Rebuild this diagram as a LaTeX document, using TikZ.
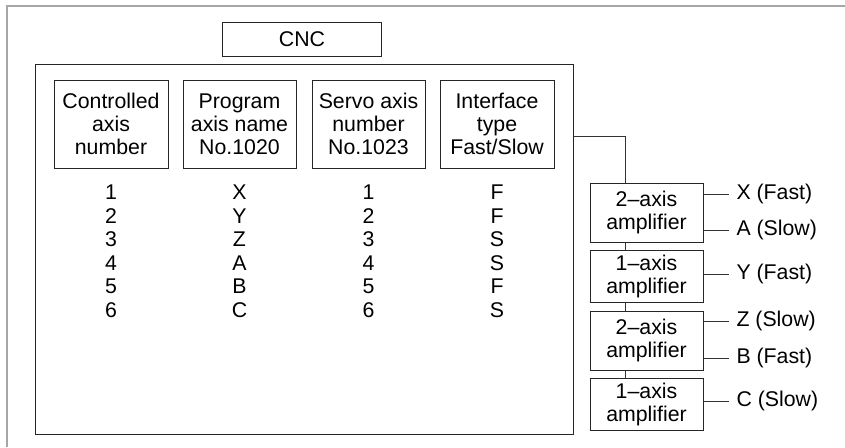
\documentclass[tikz,border=0pt]{standalone}
\usepackage{fontspec}
\setmainfont{Liberation Sans}
\usepackage{tikz}
\usepackage{xcolor}

\begin{document}
\begin{tikzpicture}[x=1pt, y=-1pt, line width=1pt,
    box/.style={draw=black!85, inner sep=0pt, align=center,
      font=\fontsize{21.3}{23}\selectfont},
    cell/.style={inner sep=0pt, font=\fontsize{21.3}{23}\selectfont},
    wire/.style={draw=black!80, line width=0.9pt}]
  \useasboundingbox (0,0) rectangle (845,447);
  % Outer frame
  \draw[gray!70, line width=2pt] (7,447) -- (7,6) -- (845,6);
  % CNC label and body
  \node[box, minimum width=159pt, minimum height=34pt] (cnc) at (302,39.5) {CNC};
  \node[draw=black!85, minimum width=538pt, minimum height=370pt, inner sep=0pt] (body) at (304,249) {};
  % Header boxes
  \node[box, minimum width=114pt, minimum height=88pt] (h1) at (111,124) {Controlled\\axis\\number};
  \node[box, minimum width=113pt, minimum height=88pt] (h2) at (239.5,124) {Program\\axis name\\No.1020};
  \node[box, minimum width=113pt, minimum height=88pt] (h3) at (368.5,124) {Servo axis\\number\\No.1023};
  \node[box, minimum width=114pt, minimum height=88pt] (h4) at (497,124) {Interface\\type\\Fast/Slow};
  % Table rows
  \foreach \n/\ax/\sv/\ty [count=\i] in {1/X/1/F, 2/Y/2/F, 3/Z/3/S, 4/A/4/S, 5/B/5/F, 6/C/6/S} {
    \node[cell] (n\i) at (111,168.5+23.6*\i) {\n};
    \node[cell] (p\i) at (239.5,168.5+23.6*\i) {\ax};
    \node[cell] (s\i) at (368.5,168.5+23.6*\i) {\sv};
    \node[cell] (t\i) at (497,168.5+23.6*\i) {\ty};
  }
  % Amplifiers
  \node[box, minimum width=113pt, minimum height=59pt] (a1) at (646.5,212.5) {2--axis\\amplifier};
  \node[box, minimum width=113pt, minimum height=52pt] (a2) at (646.5,276) {1--axis\\amplifier};
  \node[box, minimum width=113pt, minimum height=59pt] (a3) at (646.5,340.5) {2--axis\\amplifier};
  \node[box, minimum width=113pt, minimum height=52pt] (a4) at (646.5,404) {1--axis\\amplifier};
  % Bus from CNC to amplifiers
  \coordinate (tap) at (body.east |- 0,136);
  \coordinate (bus) at (625,136);
  \draw[wire] (tap) -- (bus) -- (bus |- a1.north);
  \draw[wire] (bus |- a1.south) -- (bus |- a2.north);
  \draw[wire] (bus |- a2.south) -- (bus |- a3.north);
  \draw[wire] (bus |- a3.south) -- (bus |- a4.north);
  % Axis outputs
  \node[cell, anchor=west] (ox) at (736,194) {X (Fast)};
  \node[cell, anchor=west] (oa) at (736,230) {A (Slow)};
  \node[cell, anchor=west] (oy) at (736,274) {Y (Fast)};
  \node[cell, anchor=west] (oz) at (736,321) {Z (Slow)};
  \node[cell, anchor=west] (ob) at (736,358) {B (Fast)};
  \node[cell, anchor=west] (oc) at (736,401) {C (Slow)};
  \draw[wire] (a1.east |- ox) -- ([xshift=-7pt]ox.west);
  \draw[wire] (a1.east |- oa) -- ([xshift=-7pt]oa.west);
  \draw[wire] (a2.east |- oy) -- ([xshift=-7pt]oy.west);
  \draw[wire] (a3.east |- oz) -- ([xshift=-7pt]oz.west);
  \draw[wire] (a3.east |- ob) -- ([xshift=-7pt]ob.west);
  \draw[wire] (a4.east |- oc) -- ([xshift=-7pt]oc.west);
\end{tikzpicture}
\end{document}
